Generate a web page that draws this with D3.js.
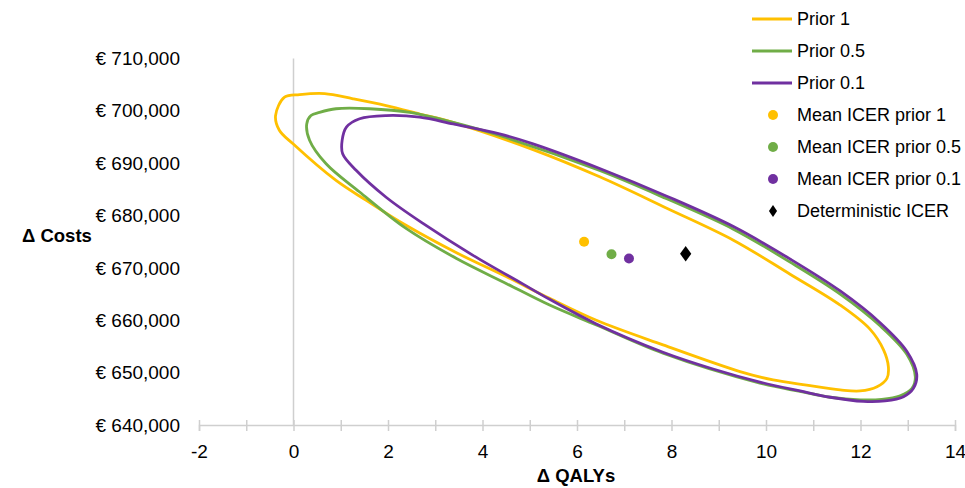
<!DOCTYPE html>
<html>
<head>
<meta charset="utf-8">
<script src="https://cdn.jsdelivr.net/npm/d3@7"></script>
<style>
  body { margin: 0; background: #fff; }
  text { font-family: "Liberation Sans", Arial, sans-serif; fill: #000; }
</style>
</head>
<body>
<div id="chart"></div>
<script>
// contour points [QALYs, costs]
var prior1 = [[-0.38,699100],[-0.19,702600],[0.13,703100],[0.66,703300],[1.26,702300],[1.96,701000],
  [2.67,699400],[3.37,697800],[5.07,692600],[6.48,687400],[7.90,681400],[9.31,675300],[10.51,668800],
  [11.57,662900],[12.20,658300],[12.49,654300],[12.59,651100],[12.56,648900],[12.35,647300],[11.99,646500],
  [11.57,646700],[10.86,647600],[10.15,648600],[9.45,650200],[7.82,655300],[6.41,660000],[5.42,664200],
  [4.51,668300],[3.45,672900],[2.39,678100],[1.54,682900],[0.90,686700],[-0.01,693700],[-0.30,696300]];

var prior05 = [[0.28,697500],[0.37,699100],[0.55,699700],[0.90,700400],[1.61,700400],[2.46,699700],
  [3.38,697800],[4.36,695300],[6.48,688600],[7.90,683200],[9.31,677400],[10.51,671100],[11.57,665000],
  [12.42,658900],[12.98,653500],[13.16,649200],[13.09,647000],[12.84,645600],[12.45,644900],[12.00,644800],
  [11.36,645300],[10.72,646400],[9.87,648000],[7.82,653700],[6.41,659100],[5.42,662900],[4.51,667000],
  [3.45,671800],[2.39,677500],[1.40,684500],[0.69,689900],[0.34,694400]];

var prior01 = [[1.03,694400],[1.12,696900],[1.40,698500],[1.96,699100],[2.67,698800],[3.38,697500],
  [4.36,695600],[5.07,693700],[6.48,689000],[7.90,683700],[9.31,677900],[10.51,671700],[11.57,665600],
  [12.42,659500],[12.98,654100],[13.19,649700],[13.12,647000],[12.91,645400],[12.52,644600],[12.06,644500],
  [11.36,645300],[10.72,646500],[9.87,648200],[8.88,650700],[7.82,653900],[6.41,659300],[5.42,664000],
  [4.86,666900],[3.80,672400],[2.74,678500],[1.96,683500],[1.33,688600],[1.04,691800]];

var meanX = [6.15, 6.73, 7.10];
var meanY = [675000, 672600, 671800];
var detICER = [8.30, 672700];

var seriesNames = ["Prior 1", "Prior 0.5", "Prior 0.1"];
var meanNames = ["Mean ICER prior 1", "Mean ICER prior 0.5", "Mean ICER prior 0.1"];
var colors = ["#ffc000", "#70ad47", "#7030a0"];

var xTicks = d3.range(-2, 15, 1);
var yTicks = d3.range(640000, 710001, 10000);

var width = 965, height = 488;

var x = d3.scaleLinear().domain([-2, 14]).range([199, 955]);
var y = d3.scaleLinear().domain([640000, 710000]).range([425, 58.5]);

var svg = d3.select("#chart").append("svg")
    .attr("width", width)
    .attr("height", height);

// vertical line at x = 0
svg.append("line")
    .attr("x1", x(0)).attr("x2", x(0))
    .attr("y1", y(710000)).attr("y2", y(640000))
    .attr("stroke", "#cfcfcf").attr("stroke-width", 1.5);

// x axis
var xAxis = svg.append("g")
    .attr("transform", "translate(0," + y(640000) + ")")
    .call(d3.axisBottom(x)
      .tickValues(xTicks)
      .tickFormat(function(d) { return d % 2 === 0 ? d : ""; }));
xAxis.select(".domain").attr("stroke", "#cfcfcf").attr("stroke-width", 1.5);
xAxis.selectAll(".tick line").attr("stroke", "#cfcfcf").attr("stroke-width", 1.5)
    .attr("y1", -5).attr("y2", 6);
xAxis.selectAll(".tick text").attr("y", 20).attr("font-size", 19)
    .style("font-family", "'Liberation Sans', Arial, sans-serif").attr("fill", "#000");

// y axis (labels only)
var fmt = d3.format(",");
var yAxis = svg.append("g")
    .attr("transform", "translate(190,0)")
    .call(d3.axisLeft(y)
      .tickValues(yTicks)
      .tickSize(0)
      .tickPadding(10)
      .tickFormat(function(d) { return "\u20ac " + fmt(d); }));
yAxis.select(".domain").remove();
yAxis.selectAll(".tick text").attr("font-size", 19)
    .style("font-family", "'Liberation Sans', Arial, sans-serif").attr("fill", "#000");

// axis titles
svg.append("text")
    .attr("x", 22).attr("y", 242)
    .attr("font-size", 18.5).attr("font-weight", "bold")
    .text("\u0394 Costs");
svg.append("text")
    .attr("x", 576).attr("y", 482)
    .attr("text-anchor", "middle")
    .attr("font-size", 18.5).attr("font-weight", "bold")
    .text("\u0394 QALYs");

// contours
var line = d3.line()
    .x(function(d) { return x(d[0]); })
    .y(function(d) { return y(d[1]); })
    .curve(d3.curveCatmullRomClosed.alpha(0.5));

[prior1, prior05, prior01].forEach(function(pts, i) {
  svg.append("path")
      .attr("d", line(pts))
      .attr("fill", "none")
      .attr("stroke", colors[i])
      .attr("stroke-width", 2.8)
      .attr("stroke-linejoin", "round");
});

// mean ICER points
svg.selectAll(".mean")
    .data(meanX)
    .enter().append("circle")
    .attr("class", "mean")
    .attr("cx", function(d) { return x(d); })
    .attr("cy", function(d, i) { return y(meanY[i]); })
    .attr("r", 5)
    .attr("fill", function(d, i) { return colors[i]; });

// deterministic ICER
var diamond = d3.symbol().type(d3.symbolDiamond).size(70);
svg.append("path")
    .attr("d", diamond())
    .attr("transform", "translate(" + x(detICER[0]) + "," + y(detICER[1]) + ") scale(1.25,1)")
    .attr("fill", "#000");

// legend
var legend = svg.append("g");
var rowY = function(i) { return 19 + i * 32; };

seriesNames.forEach(function(name, i) {
  legend.append("line")
      .attr("x1", 752).attr("x2", 792)
      .attr("y1", rowY(i)).attr("y2", rowY(i))
      .attr("stroke", colors[i]).attr("stroke-width", 2.8);
  legend.append("text")
      .attr("x", 797).attr("y", rowY(i)).attr("dy", "0.35em")
      .attr("font-size", 18).text(name);
});

meanNames.forEach(function(name, i) {
  var r = i + 3;
  legend.append("circle")
      .attr("cx", 773).attr("cy", rowY(r)).attr("r", 5)
      .attr("fill", colors[i]);
  legend.append("text")
      .attr("x", 797).attr("y", rowY(r)).attr("dy", "0.35em")
      .attr("font-size", 18).text(name);
});

legend.append("path")
    .attr("d", d3.symbol().type(d3.symbolDiamond).size(40)())
    .attr("transform", "translate(773," + rowY(6) + ") scale(1.2,1)")
    .attr("fill", "#000");
legend.append("text")
    .attr("x", 797).attr("y", rowY(6)).attr("dy", "0.35em")
    .attr("font-size", 18).text("Deterministic ICER");
</script>
</body>
</html>
